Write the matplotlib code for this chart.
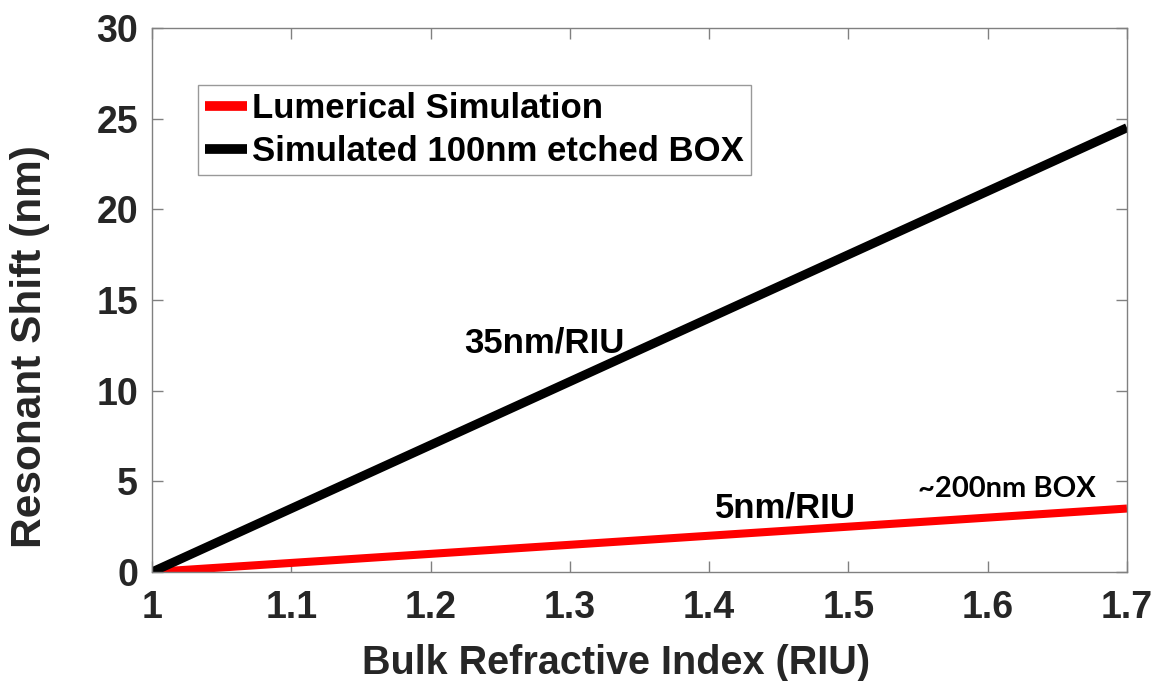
import matplotlib
matplotlib.use("Agg")
import matplotlib.pyplot as plt
import numpy as np

# Data
x_riu = [1.0, 1.7]
lumerical_shift = [0.0, 3.5]      # 5 nm/RIU
etched_box_shift = [0.0, 24.5]    # 35 nm/RIU
series_labels = ["Lumerical Simulation", "Simulated 100nm etched BOX"]
x_ticks = [1, 1.1, 1.2, 1.3, 1.4, 1.5, 1.6, 1.7]
x_ticklabels = ["1", "1.1", "1.2", "1.3", "1.4", "1.5", "1.6", "1.7"]
y_ticks = [0, 5, 10, 15, 20, 25, 30]

plt.rcParams['font.family'] = ['Liberation Sans', 'DejaVu Sans']
fig = plt.figure(figsize=(11.55, 6.81), dpi=100)
ax = fig.add_axes([152/1155, 1 - 572/681, (1127-152)/1155, (572-28)/681])

tc = '#262626'
ax.plot(x_riu, lumerical_shift, color='#ff0000', lw=5.8, label=series_labels[0], solid_capstyle='butt')
ax.plot(x_riu, etched_box_shift, color='black', lw=6.5, label=series_labels[1], solid_capstyle='butt')

ax.set_xlim(1, 1.7)
ax.set_ylim(0, 30)
ax.set_xticks(x_ticks)
ax.set_xticklabels(x_ticklabels)
ax.set_yticks(y_ticks)
for s in ax.spines.values():
    s.set_color('#808080')
    s.set_linewidth(1.0)
ax.tick_params(direction='in', length=8, width=1, color='#808080', top=True, right=True,
               labelsize=27, labelcolor=tc)
ax.tick_params(axis='x', pad=13)
ax.tick_params(axis='y', pad=10)
for lab in ax.get_xticklabels() + ax.get_yticklabels():
    lab.set_fontweight('bold')

ax.set_xlabel('Bulk Refractive Index (RIU)', fontsize=28.5, fontweight='bold', color=tc, va='center')
ax.set_ylabel('Resonant Shift (nm)', fontsize=30.5, fontweight='bold', color=tc, va='center')
ax.xaxis.set_label_coords((616-152)/975, (572-663)/544)
ax.yaxis.set_label_coords((30-152)/975, (572-347)/544)

leg = ax.legend(loc='upper left', bbox_to_anchor=((198-152)/975, (572-85)/544),
                prop={'weight': 'bold', 'size': 25}, frameon=True, fancybox=False,
                handlelength=1.2, handletextpad=0.15, borderpad=0.2, labelspacing=0.28,
                borderaxespad=0)
leg.get_frame().set_edgecolor('#808080')
leg.get_frame().set_linewidth(1.0)
for h in leg.get_lines():
    h.set_linewidth(7)

ax.text(1.282, 12.1, '35nm/RIU', fontsize=25, fontweight='bold', ha='center', va='baseline')
ax.text(1.4545, 3.0, '5nm/RIU', fontsize=25, fontweight='bold', ha='center', va='baseline')
ax.text(1.614, 4.15, '~200nm BOX', fontsize=21, fontweight='bold', ha='center', va='baseline',
        family=['Lato', 'DejaVu Sans'])

fig.savefig('out.png', dpi=100)
